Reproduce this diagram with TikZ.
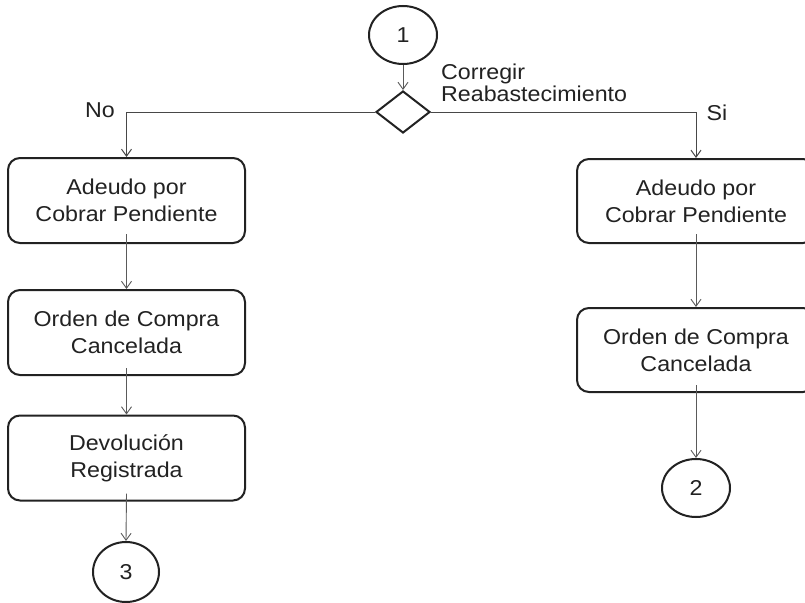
\documentclass[tikz,border=0pt]{standalone}
\usepackage{fontspec}
\setmainfont{Liberation Sans}[FakeStretch=1.08]
\usetikzlibrary{shapes.geometric,arrows.meta}
\definecolor{ink}{HTML}{222222}
\definecolor{wire}{HTML}{5A5A5A}
\tikzset{
  txt/.style={font=\fontsize{21.5}{27}\selectfont, text=ink},
  procbox/.style={draw=ink, line width=2pt, rounded corners=12pt, minimum width=237pt,
    minimum height=85pt, align=center, inner sep=0pt, txt},
  connector/.style={ellipse, draw=ink, line width=2pt, minimum width=68pt, minimum height=58pt,
    inner sep=0pt, txt},
  decision/.style={diamond, draw=ink, line width=2pt, minimum width=54pt, minimum height=42pt,
    inner sep=0pt},
  flow/.style={draw=wire, line width=0.9pt, -{Straight Barb[length=7pt,width=10pt]}},
  branch/.style={draw=wire!80!black, line width=1pt, -{Straight Barb[length=7pt,width=10pt]}},
  lbl/.style={txt, inner sep=0pt}
}
\begin{document}
\begin{tikzpicture}[x=1pt,y=-1pt]
\useasboundingbox[fill=white] (0,0) rectangle (805,602);

% connector and decision
\node[connector] (c1) at (403,35) {1};
\node[decision] (d) at (403,112) {};

% left branch
\node[procbox] (l1) at (126.5,200.5) {Adeudo por\\Cobrar Pendiente};
\node[procbox] (l2) at (126.5,332.5) {Orden de Compra\\Cancelada};
\node[procbox] (l3) at (126.5,458) {Devolución\\Registrada};
\node[connector, minimum width=66pt, minimum height=60pt] (c3) at (126,572) {3};

% right branch
\node[procbox, minimum width=238pt, minimum height=84pt] (r1) at (696,201) {Adeudo por\\Cobrar Pendiente};
\node[procbox, minimum width=238pt, minimum height=84pt] (r2) at (696,350) {Orden de Compra\\Cancelada};
\node[connector] (c2) at (696,488) {2};

% labels
\node[lbl] (no) at (100,110) {No};
\node[lbl] (si) at (717,113) {Si};
\node[lbl, anchor=west, align=left, font=\fontsize{21.5}{21.5}\selectfont] (q) at (441,83) {Corregir\\Reabastecimiento};

% flow lines
\draw[flow] (c1.south) -- (d.north);
\draw[branch] (d.west) -| (l1.north);
\draw[branch] (d.east) -| (r1.north);
\draw[flow] ([yshift=10pt]l1.south) -- (l2.north);
\draw[flow] ([yshift=8pt]l2.south) -- (l3.north);
\draw[flow] ([yshift=8pt]l3.south) -- (c3.north);
\draw[flow] ([yshift=10pt]r1.south) -- (r2.north);
\draw[flow] ([yshift=8pt]r2.south) -- (c2.north);
\end{tikzpicture}
\end{document}
